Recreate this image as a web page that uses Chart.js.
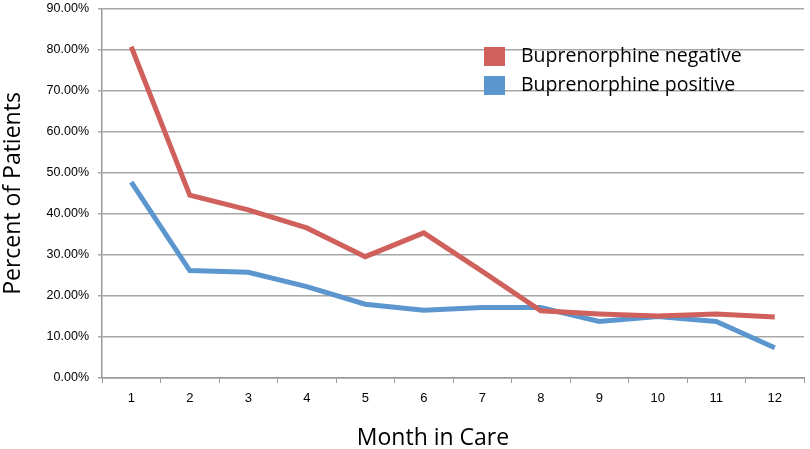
<!DOCTYPE html>
<html>
<head>
<meta charset="utf-8">
<script src="https://cdn.jsdelivr.net/npm/chart.js@4/dist/chart.umd.min.js"></script>
<style>
  html, body { margin: 0; padding: 0; background: #fff; }
  #wrap { width: 810px; height: 449px; }
</style>
</head>
<body>
<div id="wrap"><canvas id="lineChart"></canvas></div>
<script>
const months = ["1","2","3","4","5","6","7","8","9","10","11","12"];
const bupNegative = [80.8, 44.6, 41.0, 36.6, 29.6, 35.4, 26.0, 16.4, 15.6, 15.1, 15.6, 14.9];
const bupPositive = [47.8, 26.2, 25.8, 22.3, 18.0, 16.5, 17.2, 17.2, 13.8, 15.0, 13.8, 7.4];
const yTicks = [0, 10, 20, 30, 40, 50, 60, 70, 80, 90];
const xTitle = "Month in Care";

const redColor = "#d0605b";
const blueColor = "#5b96cf";

// legend inside the plot + x title, drawn where the original has them
const insideLegend = {
  id: "insideLegend",
  afterDraw(chart) {
    const ctx = chart.ctx;
    ctx.save();
    chart.data.datasets.forEach((ds, i) => {
      const y = 56 + i * 29;
      ctx.fillStyle = ds.borderColor;
      ctx.fillRect(484, y - 9, 21, 19);
      ctx.fillStyle = "#000";
      ctx.font = "19.5px 'Open Sans', sans-serif";
      ctx.textBaseline = "middle";
      ctx.textAlign = "left";
      ctx.fillText(ds.label, 521, y);
    });
    ctx.font = "23px 'Open Sans', sans-serif";
    ctx.textBaseline = "alphabetic";
    ctx.textAlign = "center";
    ctx.fillText(xTitle, 433, 445);
    ctx.restore();
  }
};

new Chart(document.getElementById("lineChart"), {
  type: "line",
  data: {
    labels: months,
    datasets: [
      {
        label: "Buprenorphine negative",
        data: bupNegative,
        borderColor: redColor,
        backgroundColor: redColor,
        borderWidth: 5,
        pointRadius: 0,
        tension: 0
      },
      {
        label: "Buprenorphine positive",
        data: bupPositive,
        borderColor: blueColor,
        backgroundColor: blueColor,
        borderWidth: 5,
        pointRadius: 0,
        tension: 0
      }
    ]
  },
  options: {
    responsive: true,
    maintainAspectRatio: false,
    animation: false,
    layout: { autoPadding: false, padding: { top: 9, right: 6, left: 0, bottom: 0 } },
    plugins: {
      legend: { display: false },
      tooltip: { enabled: false }
    },
    scales: {
      x: {
        offset: true,
        grid: {
          offset: true,
          drawOnChartArea: false,
          drawTicks: true,
          tickLength: 5,
          color: "#999"
        },
        border: { color: "#999", width: 1.5 },
        ticks: {
          color: "#000",
          font: { family: "'Liberation Sans Narrow', 'Liberation Sans', sans-serif", size: 13 },
          padding: 8
        },
        afterFit(scale) {
          scale.height = 71;
          scale.paddingLeft = 0;
          scale.paddingRight = 0;
        }
      },
      y: {
        min: 0,
        max: 90,
        afterBuildTicks(scale) { scale.ticks = yTicks.map(v => ({ value: v })); },
        grid: {
          color: "#a6a6a6",
          lineWidth: 1.5,
          drawTicks: true,
          tickLength: 4
        },
        border: { color: "#999", width: 1.5 },
        ticks: {
          color: "#000",
          font: { family: "'Liberation Sans', sans-serif", size: 12.5 },
          padding: 9,
          callback: v => v.toFixed(2) + "%"
        },
        title: {
          display: true,
          text: "Percent of Patients",
          color: "#000",
          font: { family: "'Open Sans', sans-serif", size: 23 },
          padding: { top: 0, bottom: 6 }
        },
        afterFit(scale) {
          scale.width = 102;
          scale.paddingTop = 0;
          scale.paddingBottom = 0;
        }
      }
    }
  },
  plugins: [insideLegend]
});
</script>
</body>
</html>
